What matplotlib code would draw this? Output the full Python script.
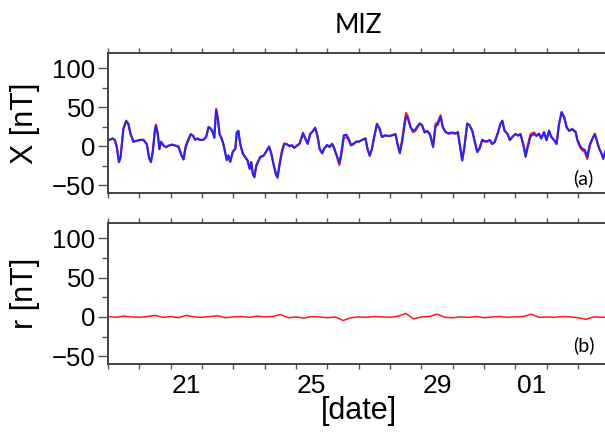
import matplotlib
matplotlib.use("Agg")
import matplotlib.pyplot as plt
import matplotlib.dates as mdates
import numpy as np
import pandas as pd

plt.rcParams["font.family"] = ["Liberation Sans", "DejaVu Sans"]

# data (days since 19 Dec, nT)
start = pd.Timestamp("2019-12-19")

x_days = [
    0.04, 0.15, 0.22, 0.28, 0.35, 0.40, 0.49, 0.58, 0.65, 0.72, 0.81, 0.92, 1.02, 1.13, 1.24,
    1.31, 1.37, 1.43, 1.50, 1.53, 1.59, 1.64, 1.69, 1.77, 1.85, 1.93, 2.03, 2.14, 2.25, 2.35,
    2.41, 2.48, 2.57, 2.64, 2.71, 2.78, 2.85, 2.94, 3.05, 3.13, 3.21, 3.28, 3.35, 3.39, 3.45,
    3.50, 3.56, 3.61, 3.68, 3.74, 3.79, 3.84, 3.90, 3.98, 4.06, 4.11, 4.16, 4.22, 4.30, 4.38,
    4.45, 4.52, 4.57, 4.62, 4.67, 4.73, 4.80, 4.86, 4.96, 5.07, 5.14, 5.21, 5.28, 5.36, 5.41,
    5.47, 5.55, 5.62, 5.71, 5.79, 5.87, 5.94, 6.03, 6.11, 6.22, 6.29, 6.37, 6.45, 6.54, 6.61,
    6.69, 6.75, 6.83, 6.90, 6.99, 7.07, 7.15, 7.22, 7.31, 7.38, 7.44, 7.52, 7.60, 7.68, 7.75,
    7.84, 7.92, 8.00, 8.10, 8.21, 8.29, 8.35, 8.42, 8.50, 8.58, 8.66, 8.74, 8.85, 8.96, 9.06,
    9.17, 9.24, 9.31, 9.38, 9.46, 9.51, 9.57, 9.65, 9.73, 9.81, 9.88, 9.95, 10.02, 10.10, 10.18,
    10.27, 10.37, 10.45, 10.52, 10.61, 10.68, 10.77, 10.87, 10.98, 11.09, 11.16, 11.22, 11.30,
    11.37, 11.46, 11.53, 11.62, 11.69, 11.78, 11.85, 11.94, 12.01, 12.10, 12.18, 12.26, 12.34,
    12.44, 12.52, 12.58, 12.65, 12.74, 12.82, 12.90, 13.00, 13.08, 13.16, 13.27, 13.32, 13.40,
    13.48, 13.59, 13.67, 13.75, 13.82, 13.91, 13.99, 14.07, 14.14, 14.23, 14.31, 14.39, 14.47,
    14.55, 14.63, 14.71, 14.81, 14.92, 14.97, 15.06, 15.13, 15.21, 15.29, 15.37, 15.46, 15.53,
    15.59, 15.67, 15.74, 15.80, 15.88,
]
x_obs = [
    8.5, 10, 8, -1, -20, -14, 23, 33, 29, 16, 6, 7, 8, 8.5, 3,
    -14, -19, -5, 23, 28, 16, -3, 6, 1, -1, 1, 2.5, 1, -1, -12,
    -16, 1, 10, 16, 14, 8.5, 10, 8, 8.5, 12, 25, 23, 18, 12, 48,
    38, 16, 12, 3, -9, -18, -12, -20, -7, -3, 18, 20, 3, -9, -14,
    -18, -29, -20, -35, -39, -24, -18, -13, -12, -5, 0, -9, -22, -35, -38,
    -22, -5, 4, 2.5, 0, 1, -2, 1, 3, 16, 10, 3, 16, 20, 24,
    12, -3, -9, -3, 1, -1, 3, -3, -14, -24, -12, 10, 12, 8, 1,
    3, 6, 6, 8, 10, -5, -12, -3, 14, 29, 23, 12, 14, 13, 14,
    16, 3, -7, 8, 31, 43, 38, 25, 18, 20, 25, 29, 27, 18, 20,
    16, 1, 29, 31, 40, 25, 18, 16, 17, 16, 18, 3, -18,
    -1, 29, 27, 20, 8, -7, -3, 8, 6, 6, 8, 3, 6,
    18, 29, 33, 20, 16, 8, 12, 16, 14, 16, -1, -12, 3,
    16, 18, 14, 16, 10, 18, 8, 20, 12, 8, 3, 29, 44,
    38, 25, 20, 22, 18, 8, -1, -5, -7, -16, 1, 10, 16,
    8, -3, -9, -16, -5,
]

r_days = np.arange(0, 16.01, 0.25)
r_vals = [
    0.5, -0.5, 1.0, 0, -0.5, 0.5, 2.0, -0.5, 0.5, -1, 2.0, 0, -0.5, 0.5, 1.5, -1,
    0, 0.5, -0.5, 1, 0, 0.5, 3.0, -1, 0, -1.5, 0.5, 0, -1, 0, -4.5, -1,
    0, -0.5, 0.5, 0, -0.5, 1, 4.5, -2.5, 0, 0.5, 3.5, -0.5, -1, 0, -0.5, 0.5,
    -1, 0, 0.5, -0.5, 0, 0.5, 3.5, -0.5, 0, -0.5, 0.5, 0, -1, -3, 0, -0.5, 0,
]

x_time = start + pd.to_timedelta(x_days, unit="D")
r_time = start + pd.to_timedelta(r_days, unit="D")
# model = observed minus residual
x_model = np.array(x_obs) - np.interp(x_days, r_days, r_vals)

label_days = ["2019-12-21", "2019-12-25", "2019-12-29", "2020-01-01"]

fig = plt.figure(figsize=(6.05, 4.36), dpi=100)
ax1 = fig.add_axes([0.1785, 0.5567, 0.829, 0.3225])
ax2 = fig.add_axes([0.1785, 0.1651, 0.829, 0.3240])

ax1.plot(x_time, x_obs, color="#ff2020", lw=1.5, solid_joinstyle="round")
ax1.plot(x_time, x_model, color="#2424ff", lw=1.5, solid_joinstyle="round")
ax2.plot(r_time, r_vals, color="#ff1a1a", lw=1.1)

for ax in (ax1, ax2):
    ax.set_xlim(start, start + pd.Timedelta(days=16))
    ax.set_ylim(-60, 120)
    ax.set_yticks([-50, 0, 50, 100])
    ax.set_yticks([-25, 25, 75], minor=True)
    ax.xaxis.set_minor_locator(mdates.DayLocator())
    ax.set_xticks([pd.Timestamp(d) + pd.Timedelta(hours=12) for d in label_days])
    ax.xaxis.set_major_formatter(mdates.DateFormatter("%d"))
    ax.tick_params(axis="x", which="major", length=0, pad=7, labelsize=19)
    ax.tick_params(axis="x", which="minor", length=3.5, width=1, top=True, color="#555")
    ax.tick_params(axis="y", which="major", length=7, width=1, labelsize=18.5, color="#555", pad=2)
    ax.tick_params(axis="y", which="minor", length=4, width=1, color="#555")
    ax.spines["right"].set_visible(False)
    for s in ("left", "top", "bottom"):
        ax.spines[s].set_color("#444")
        ax.spines[s].set_linewidth(1.4)
    ax.yaxis.set_label_coords(-0.135, 0.5)

ax1.tick_params(axis="x", which="major", labelbottom=False)
ax1.set_ylabel("X [nT]", fontsize=22)
ax2.set_ylabel("r [nT]", fontsize=22)
ax2.set_xlabel("[date]", fontsize=22, labelpad=-1)
ax1.set_title("MIZ", fontsize=19, pad=14, family=["Lato", "DejaVu Sans"])

ax1.text(0.948, 0.11, "(a)", transform=ax1.transAxes, ha="center", va="center",
         fontsize=14, family=["Lato", "DejaVu Sans"])
ax2.text(0.948, 0.13, "(b)", transform=ax2.transAxes, ha="center", va="center",
         fontsize=14, family=["Lato", "DejaVu Sans"])

fig.savefig("out.png", dpi=100)
